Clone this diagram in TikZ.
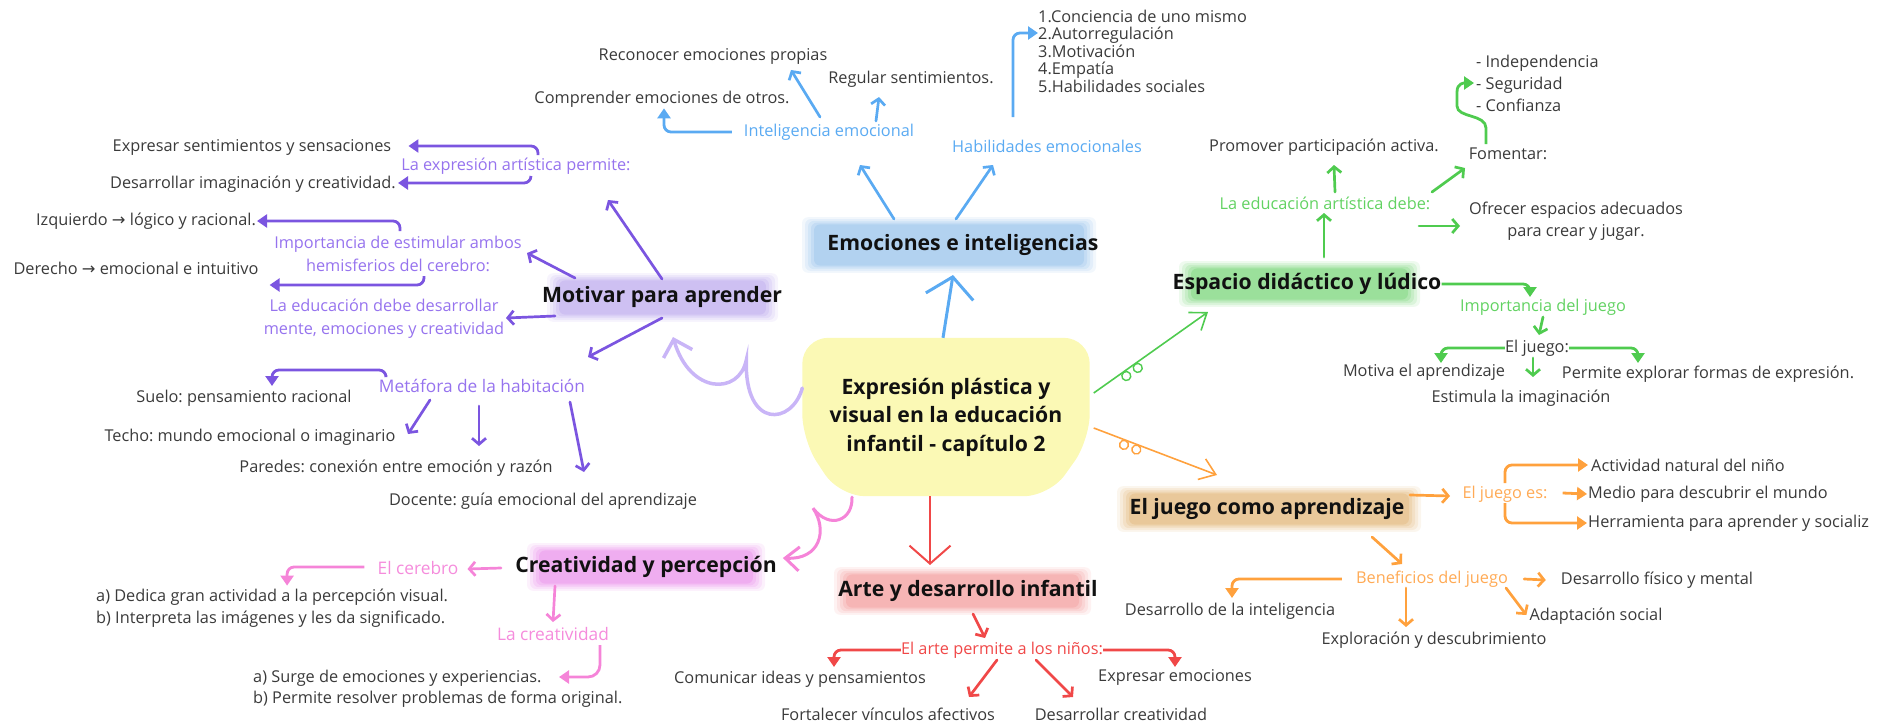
\documentclass[tikz,border=0pt]{standalone}
\usepackage{fontspec}
\setmainfont{Open Sans}
\newfontfamily\arrfont{DejaVu Sans}
\usetikzlibrary{arrows.meta,decorations.markings}
\frenchspacing

\definecolor{cyellow}{HTML}{FBF9B5}
\definecolor{titlec}{HTML}{111111}
\definecolor{leafc}{HTML}{3A3A3A}
\definecolor{purc}{HTML}{7B55E0}
\definecolor{purt}{HTML}{9673EE}
\definecolor{purl}{HTML}{C9B5F7}
\definecolor{purh}{HTML}{C6B6F0}
\definecolor{bluec}{HTML}{5AAAF2}
\definecolor{blueh}{HTML}{A6CBEE}
\definecolor{grnc}{HTML}{4FCB4F}
\definecolor{grnt}{HTML}{62D262}
\definecolor{grnh}{HTML}{8CDB8C}
\definecolor{orac}{HTML}{FFA13D}
\definecolor{orat}{HTML}{FFAA55}
\definecolor{orah}{HTML}{E6C08A}
\definecolor{redc}{HTML}{F04848}
\definecolor{redh}{HTML}{F5AAAA}
\definecolor{pnkc}{HTML}{F584D8}
\definecolor{pnkt}{HTML}{F58CDC}
\definecolor{pnkh}{HTML}{EDA0EE}

\pgfdeclarelayer{bg}
\pgfsetlayers{bg,main}

\tikzset{center node/.style={font=\fontsize{21.2}{28.5}\selectfont\bfseries, text=titlec, align=center,
           minimum width=287, minimum height=158, inner sep=0pt},
  topic/.style={font=\fontsize{21.2}{25}\selectfont\bfseries, text=titlec, inner sep=0pt},
  leaf/.style={font=\fontsize{16.3}{22}\selectfont, text=leafc, inner sep=0pt},
  tag/.style={font=\fontsize{16.3}{23}\selectfont, text=#1, inner sep=0pt},
  big tag/.style={font=\fontsize{17.3}{23}\selectfont, text=#1, inner sep=0pt},
  link/.style={line width=2.7pt, line cap=round, -{Straight Barb[length=6pt,width=14pt]}},
  elbow/.style={line width=2.8pt, rounded corners=7pt, -{Triangle[length=10pt,width=13pt]}},
  thin link/.style={line width=1.6pt, -{Straight Barb[length=15pt,width=22pt]}},
  curly/.style={line width=3.5pt, line cap=round, -{Straight Barb[length=15pt,width=30pt]}},
  twirls/.style={postaction={decorate, decoration={markings,
      mark=at position .26 with {\draw[-, line width=1.4pt] (0pt,-5pt) circle (4.5pt);},
      mark=at position .36 with {\draw[-, line width=1.4pt] (0pt,-5pt) circle (4.5pt);}}}},
}

\newcommand{\hlbox}[3]{%
  \foreach \d/\o in {8/.15,5/.2,2/.25,-1/.35,-4/.6}
    \fill[#1, opacity=\o, rounded corners=6pt] ([shift={(0-\d,0-\d*0.6)}]#2) rectangle ([shift={(\d,\d*0.6)}]#3);
}

\begin{document}
\begin{tikzpicture}[x=1pt, y=-1pt]
\useasboundingbox (0,0) rectangle (1884,725);

% soft highlights behind the topics
\hlbox{blueh}{810,222}{1088,268}
\hlbox{purh}{555,278}{770,317}
\hlbox{grnh}{1187,266}{1412,302}
\hlbox{orah}{1125,491}{1413,527}
\hlbox{redh}{842,572}{1083,610}
\hlbox{pnkh}{535,548}{757,586}

\node[center node] (main) at (946,417) {Expresión plástica y\\visual en la educación\\infantil - capítulo 2};
\begin{pgfonlayer}{bg}
  \fill[cyellow, rounded corners=26pt] (main.north west) -- (main.north east) -- ([shift={(0,23)}]main.east)
    -- ([shift={(-40,0)}]main.south east) -- ([shift={(37,0)}]main.south west) -- ([shift={(0,23)}]main.west) -- cycle;
\end{pgfonlayer}

\node[topic] (emo) at (963,245) {Emociones e inteligencias};
\node[topic] (mot) at (662,297) {Motivar para aprender};
\node[topic] (esp) at (1307,284) {Espacio didáctico y lúdico};
\node[topic] (jue) at (1267,509) {El juego como aprendizaje};
\node[topic] (arte) at (968,591) {Arte y desarrollo infantil};
\node[topic] (crea) at (646,567) {Creatividad y percepción};

% emociones
\node[tag=bluec] (ie) at (829,132) {Inteligencia emocional};
\node[tag=bluec] (he) at (1047,146) {Habilidades emocionales};
\node[leaf] (reco) at (713,56) {Reconocer emociones propias};
\node[leaf] (comp) at (662,99) {Comprender emociones de otros.};
\node[leaf] (regu) at (911,79) {Regular sentimientos.};
\node[leaf, align=left, anchor=west, font=\fontsize{16.3}{17.5}\selectfont] (hlist) at (1038,51)
  {1.Conciencia de uno mismo\\2.Autorregulación\\3.Motivación\\4.Empatía\\5.Habilidades sociales};

% motivar
\node[tag=purt] (lea) at (516,166) {La expresión artística permite:};
\node[leaf] (expr) at (252,147) {Expresar sentimientos y sensaciones};
\node[leaf] (desa) at (253,184) {Desarrollar imaginación y creatividad.};
\node[tag=purt, align=center] (imp) at (398,254) {Importancia de estimular ambos\\hemisferios del cerebro:};
\node[leaf] (izq) at (146,221) {Izquierdo {\arrfont →} lógico y racional.};
\node[leaf] (der) at (136,268) {Derecho {\arrfont →} emocional e intuitivo};
\node[tag=purt, align=center] (edu) at (384,319) {La educación debe desarrollar\\mente, emociones y creatividad};
\node[big tag=purt] (meta) at (482,386) {Metáfora de la habitación};
\node[leaf] (suelo) at (244,398) {Suelo: pensamiento racional};
\node[leaf] (techo) at (250,437) {Techo: mundo emocional o imaginario};
\node[leaf] (pared) at (396,468) {Paredes: conexión entre emoción y razón};
\node[leaf] (doc) at (543,501) {Docente: guía emocional del aprendizaje};

% espacio
\node[tag=grnt] (lead) at (1325,203) {La educación artística debe:};
\node[leaf] (prom) at (1324,147) {Promover participación activa.};
\node[leaf] (fom) at (1508,154) {Fomentar:};
\node[leaf, align=center] (ofre) at (1576,221) {Ofrecer espacios adecuados\\para crear y jugar.};
\node[leaf, align=left, anchor=west] (fl) at (1476,83) {- Independencia\\- Seguridad\\- Confianza};
\node[tag=grnt] (impj) at (1543,307) {Importancia del juego};
\node[leaf] (ej) at (1537,348) {El juego:};
\node[leaf] (motiva) at (1424,372) {Motiva el aprendizaje};
\node[leaf] (perm) at (1708,374) {Permite explorar formas de expresión.};
\node[leaf] (esti) at (1521,398) {Estimula la imaginación};

% juego
\node[tag=orat] (jes) at (1505,494) {El juego es:};
\node[leaf, anchor=west] (act) at (1591,465) {Actividad natural del niño};
\node[leaf, anchor=west] (medio) at (1588,494) {Medio para descubrir el mundo};
\node[leaf, anchor=west] (herr) at (1588,523) {Herramienta para aprender y socializ};
\node[tag=orat] (ben) at (1432,579) {Beneficios del juego};
\node[leaf] (dfm) at (1657,580) {Desarrollo físico y mental};
\node[leaf] (adap) at (1596,616) {Adaptación social};
\node[leaf] (expl) at (1434,640) {Exploración y descubrimiento};
\node[leaf] (dint) at (1230,611) {Desarrollo de la inteligencia};

% arte
\node[tag=redc] (eap) at (1002,650) {El arte permite a los niños:};
\node[leaf] (comu) at (800,679) {Comunicar ideas y pensamientos};
\node[leaf] (expe) at (1175,677) {Expresar emociones};
\node[leaf] (fort) at (888,714) {Fortalecer vínculos afectivos};
\node[leaf] (dcre) at (1121,714) {Desarrollar creatividad};

% creatividad
\node[big tag=pnkt] (cer) at (418,568) {El cerebro};
\node[big tag=pnkt] (cla) at (553,634) {La creatividad};
\node[leaf, align=left, anchor=west] (ceri) at (96,608)
  {a) Dedica gran actividad a la percepción visual.\\b) Interpreta las imágenes y les da significado.};
\node[leaf, align=left, anchor=west, font=\fontsize{16.3}{21}\selectfont] (clai) at (253,689)
  {a) Surge de emociones y experiencias.\\b) Permite resolver problemas de forma original.};

% from the centre
\draw[bluec, line width=3pt, -{Straight Barb[length=20pt,width=48pt]}] ([shift={(-3,0)}]main.north) -- ([shift={(-10,30)}]emo.center);
\draw[curly, purl] ([shift={(0,-29)}]main.west) .. controls +(-10,37) and +(-2,70) .. ++(-56,-28)
  .. controls +(-7,35) and +(17,58) .. ([shift={(11,40)}]mot.center);
\draw[thin link, grnc, twirls] ([shift={(4,-24)}]main.east) -- ([shift={(-99,28)}]esp.center);
\draw[thin link, orac, twirls] ([shift={(4,11)}]main.east) -- ([shift={(-50,-34)}]jue.center);
\draw[redc, line width=2pt, -{Straight Barb[length=18pt,width=41pt]}] ([shift={(-16,0)}]main.south) -- ([shift={(-38,-26)}]arte.center);
\draw[pnkc, line width=3pt, line cap=round, -{Straight Barb[length=14pt,width=24pt]}] ([shift={(-94,1)}]main.south)
  .. controls +(1,23) and +(17,22) .. ++(-39,11) .. controls +(15,22) and +(37,2) .. ([shift={(6,-9)}]crea.east);

% emociones
\draw[link, bluec] ([shift={(-69,-26)}]emo.center) -- ([shift={(31,33)}]ie.center);
\draw[link, bluec] ([shift={(-7,-26)}]emo.center) -- ([shift={(-54,19)}]he.center);
\draw[elbow, bluec] ([shift={(-12,0)}]ie.west) -| ([shift={(2,1)}]comp.south);
\draw[link, bluec] ([shift={(-9,-15)}]ie.center) -- ([shift={(78,14)}]reco.center);
\draw[link, bluec] ([shift={(47,-11)}]ie.center) -- ([shift={(-32,18)}]regu.center);
\draw[elbow, bluec] ([shift={(-34,-29)}]he.center) |- ([shift={(0,-18)}]hlist.west);

% motivar
\draw[link, purc] ([shift={(0,-18)}]mot.center) -- ([shift={(92,34)}]lea.center);
\draw[link, purc] ([shift={(-87,-19)}]mot.center) -- ([shift={(129,-1)}]imp.center);
\draw[link, purc] ([shift={(-107,19)}]mot.center) -- ([shift={(122,-1)}]edu.center);
\draw[link, purc] ([shift={(0,21)}]mot.center) -- ([shift={(106,-29)}]meta.center);
\draw[elbow, purc] ([shift={(22,-11)}]lea.center) |- ([shift={(17,-1)}]expr.east);
\draw[elbow, purc] ([shift={(15,10)}]lea.center) |- ([shift={(2,-1)}]desa.east);
\draw[elbow, purc] ([shift={(2,-23)}]imp.center) |- ([shift={(1,0)}]izq.east);
\draw[elbow, purc] ([shift={(26,22)}]imp.center) |- ([shift={(11,17)}]der.east);
\draw[elbow, purc] ([shift={(-96,-11)}]meta.center) -- ++(0,-5) -| ([shift={(28,-12)}]suelo.center);
\draw[link, purc] ([shift={(-52,14)}]meta.center) -- ([shift={(158,-3)}]techo.center);
\draw[link, purc] ([shift={(-3,20)}]meta.center) -- ([shift={(83,-22)}]pared.center);
\draw[link, purc] ([shift={(88,16)}]meta.center) -- ([shift={(41,-29)}]doc.center);

% espacio
\draw[link, grnc] ([shift={(17,-27)}]esp.center) -- ([shift={(-1,10)}]lead.center);
\draw[link, grnc] ([shift={(10,-11)}]lead.center) -- ([shift={(10,18)}]prom.center);
\draw[link, grnc] ([shift={(107,-11)}]lead.center) -- ([shift={(-43,14)}]fom.center);
\draw[link, grnc] ([shift={(94,23)}]lead.center) -- ([shift={(-116,5)}]ofre.center);
\draw[elbow, grnc, sharp corners] ([shift={(-22,-10)}]fom.center) -- ++(0,-16) .. controls +(0,-14) and +(0,12) .. ++(-29,-22)
  -- ++(0,-14) .. controls +(0,-9) and +(-10,0) .. ([shift={(-2,0)}]fl.west);
\draw[elbow, grnc] (esp.east) -| ([shift={(-13,-10)}]impj.center);
\draw[link, grnc] ([shift={(0,10)}]impj.center) -- ([shift={(2,-13)}]ej.center);
\draw[elbow, grnc] (ej.west) -| ([shift={(17,-9)}]motiva.center);
\draw[elbow, grnc] (ej.east) -| ([shift={(-70,-11)}]perm.center);
\draw[link, grnc] ([shift={(-4,10)}]ej.center) -- ([shift={(12,-21)}]esti.center);

% juego
\draw[link, orac] ([shift={(143,-14)}]jue.center) -- ([shift={(-55,2)}]jes.center);
\draw[elbow, orac] ([shift={(0,-11)}]jes.center) |- ([shift={(-3,0)}]act.west);
\draw[elbow, orac] ([shift={(15,-1)}]jes.east) -- ([shift={(-1,0)}]medio.west);
\draw[elbow, orac] ([shift={(0,9)}]jes.center) |- ([shift={(-1,0)}]herr.west);
\draw[link, orac] ([shift={(105,28)}]jue.center) -- ([shift={(-30,-15)}]ben.center);
\draw[link, orac] ([shift={(16,0)}]ben.east) -- ([shift={(-15,0)}]dfm.west);
\draw[link, orac] ([shift={(74,9)}]ben.center) -- ([shift={(-3,-1)}]adap.west);
\draw[link, orac] ([shift={(-26,9)}]ben.center) -- ([shift={(-28,-13)}]expl.center);
\draw[elbow, orac] ([shift={(-14,0)}]ben.west) -| ([shift={(2,-13)}]dint.center);

% arte
\draw[link, redc] ([shift={(5,23)}]arte.center) -- ([shift={(-17,-12)}]eap.center);
\draw[elbow, redc] (eap.west) -| ([shift={(34,-12)}]comu.center);
\draw[elbow, redc] (eap.east) -| ([shift={(0,-10)}]expe.center);
\draw[link, redc] ([shift={(-5,10)}]eap.center) -- ([shift={(81,-17)}]fort.center);
\draw[link, redc] ([shift={(34,10)}]eap.center) -- ([shift={(-48,-17)}]dcre.center);

% creatividad
\draw[link, pnkc] ([shift={(-14,1)}]crea.west) -- ([shift={(9,1)}]cer.east);
\draw[link, pnkc] ([shift={(-91,19)}]crea.center) -- ([shift={(0,-12)}]cla.center);
\draw[elbow, pnkc] ([shift={(-13,-1)}]cer.west) -| ([shift={(15,-3)}]ceri.north);
\draw[elbow, pnkc, rounded corners=12pt] ([shift={(47,11)}]cla.center) |- ([shift={(306,-12)}]clai.west);
\end{tikzpicture}
\end{document}
